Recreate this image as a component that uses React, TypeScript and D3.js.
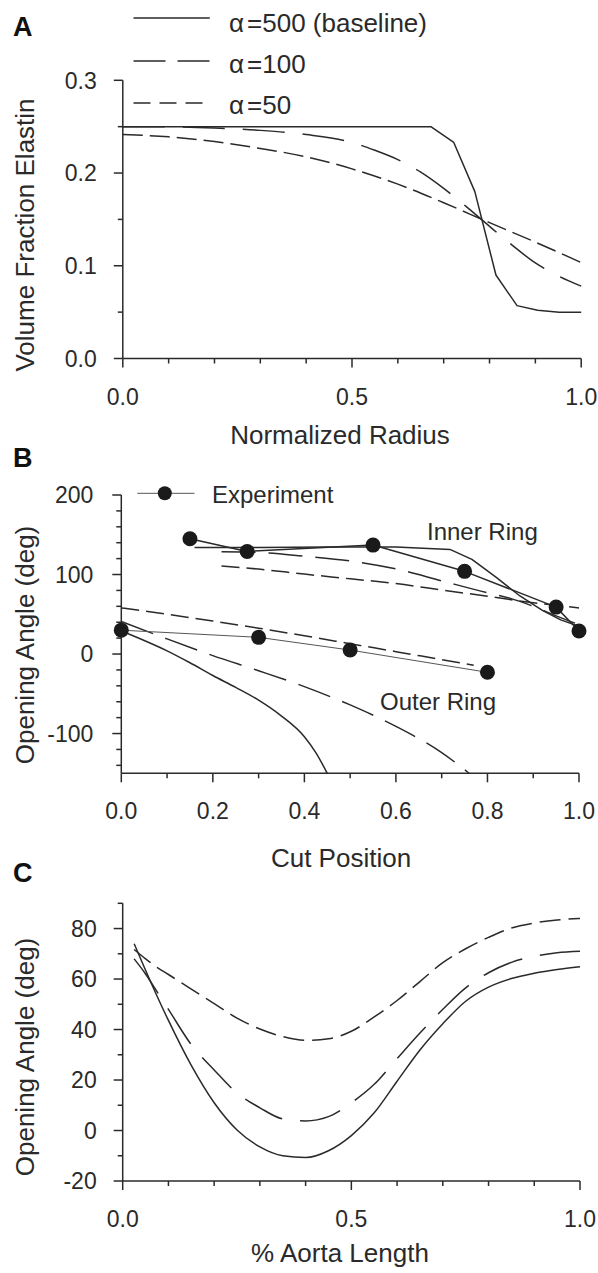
import React from "react";
import * as d3 from "d3";

// ---------- Panel A: elastin volume fraction across the wall ----------
const radius500 = [0, 0.672, 0.722, 0.768, 0.814, 0.86, 0.905, 0.952, 1.0];
const elastin500 = [0.25, 0.25, 0.233, 0.18, 0.09, 0.057, 0.052, 0.05, 0.05];
const radius100 = [0, 0.1, 0.2, 0.3, 0.4, 0.5, 0.55, 0.6, 0.65, 0.7, 0.75, 0.8, 0.85, 0.9, 0.95, 1.0];
const elastin100 = [0.25, 0.2498, 0.2485, 0.246, 0.2415, 0.233, 0.2245, 0.2145, 0.201, 0.1835, 0.1635, 0.1425, 0.122, 0.103, 0.089, 0.078];
const radius50 = [0, 0.1, 0.2, 0.3, 0.4, 0.5, 0.6, 0.7, 0.8, 0.9, 1.0];
const elastin50 = [0.2415, 0.239, 0.234, 0.2265, 0.2175, 0.2045, 0.188, 0.168, 0.1465, 0.1255, 0.1035];
const legendLabelsA = ["=500 (baseline)", "=100", "=50"];

// ---------- Panel B: opening angle vs cut position ----------
const innerExpCut = [0.15, 0.275, 0.55, 0.75, 0.95, 1.0];
const innerExpAngle = [145, 129, 137, 104, 59, 29];
const outerExpCut = [0, 0.3, 0.5, 0.8];
const outerExpAngle = [30, 21, 5, -23];

const inner500Cut = [0.16, 0.3, 0.45, 0.6, 0.718, 0.766, 0.82, 0.871, 0.92, 0.96, 1.0];
const inner500Angle = [134, 134, 134.5, 134.5, 131.6, 119, 96, 73, 55, 43, 35];
const inner100Cut = [0.219, 0.3, 0.4, 0.5, 0.6, 0.7, 0.8, 0.85, 0.9, 0.95, 1.0];
const inner100Angle = [128.7, 127.8, 123, 117, 107, 92, 77, 70, 60, 48, 37];
const inner50Cut = [0.219, 0.3, 0.4, 0.5, 0.6, 0.7, 0.8, 0.9, 1.0];
const inner50Angle = [110.6, 106.8, 100.5, 94.6, 88.6, 80.6, 72.6, 64.5, 58];

const outer500Cut = [0, 0.05, 0.1, 0.15, 0.2, 0.25, 0.3, 0.35, 0.4, 0.425, 0.45];
const outer500Angle = [29, 17, 4, -11, -27, -42, -58, -78, -104, -124, -150];
const outer100Cut = [0, 0.1, 0.2, 0.3, 0.4, 0.5, 0.6, 0.7, 0.76];
const outer100Angle = [41, 19, -2, -21, -41, -64, -91, -124, -150];
const outer50Cut = [0, 0.1, 0.2, 0.3, 0.4, 0.5, 0.6, 0.7, 0.77];
const outer50Angle = [58, 50, 41.5, 32.5, 23, 13, 3, -7, -14];

// ---------- Panel C: opening angle along the aorta ----------
const aortaPos = [0.025, 0.05, 0.075, 0.1, 0.15, 0.2, 0.25, 0.3, 0.35, 0.4, 0.45, 0.5, 0.55, 0.6, 0.65, 0.7, 0.75, 0.8, 0.85, 0.9, 0.95, 1.0];
const aorta500 = [74, 63.5, 53.3, 43.6, 25.8, 11.0, 0.2, -6.5, -10.0, -10.7, -8.0, -2, 7, 19.5, 31.9, 42.3, 51.2, 56.8, 60.2, 62.3, 63.8, 64.9];
const aorta100 = [68, 62, 55, 48, 34, 24, 14.8, 9, 4.6, 3.8, 5.5, 11, 18.3, 28.5, 38.6, 48, 56.5, 62.5, 66.6, 69, 70.4, 71];
const aorta50 = [71.7, 68, 64.6, 61.8, 56, 50.3, 44.5, 40.2, 37.2, 35.7, 36.3, 39.3, 45, 51.5, 59, 66.5, 72, 76.5, 80.2, 82.2, 83.4, 84];

const FONT = "'Liberation Sans', Arial, Helvetica, sans-serif";
const INK = "#2a2a2a";
const LINE_W = 1.5;
const TICK_FONT = 23;

type Pt = [number, number];
const zip = (xs: number[], ys: number[]): Pt[] => xs.map((x, i) => [x, ys[i]]);

type Scale = d3.ScaleLinear<number, number>;

function XAxis({ x, y, major, minor, fmt }: { x: Scale; y: number; major: number[]; minor: number[]; fmt: (v: number) => string }) {
  const [r0, r1] = x.range();
  return (
    <g>
      <line x1={r0} x2={r1} y1={y} y2={y} stroke={INK} strokeWidth={LINE_W} />
      {minor.map((t) => (
        <line key={"m" + t} x1={x(t)} x2={x(t)} y1={y} y2={y + 5} stroke={INK} strokeWidth={LINE_W} />
      ))}
      {major.map((t) => (
        <g key={"M" + t}>
          <line x1={x(t)} x2={x(t)} y1={y} y2={y + 9} stroke={INK} strokeWidth={LINE_W} />
          <text x={x(t)} y={y + 46} textAnchor="middle" fontSize={TICK_FONT} fill={INK} fontFamily={FONT}>
            {fmt(t)}
          </text>
        </g>
      ))}
    </g>
  );
}

function YAxis({ yScale, x, major, minor, fmt, labelGap }: { yScale: Scale; x: number; major: number[]; minor: number[]; fmt: (v: number) => string; labelGap: number }) {
  const [r0, r1] = yScale.range();
  return (
    <g>
      <line x1={x} x2={x} y1={r0} y2={r1} stroke={INK} strokeWidth={LINE_W} />
      {minor.map((t) => (
        <line key={"m" + t} x1={x - 5} x2={x} y1={yScale(t)} y2={yScale(t)} stroke={INK} strokeWidth={LINE_W} />
      ))}
      {major.map((t) => (
        <g key={"M" + t}>
          <line x1={x - 9} x2={x} y1={yScale(t)} y2={yScale(t)} stroke={INK} strokeWidth={LINE_W} />
          <text x={x - labelGap} y={yScale(t) + 8.2} textAnchor="end" fontSize={TICK_FONT} fill={INK} fontFamily={FONT}>
            {fmt(t)}
          </text>
        </g>
      ))}
    </g>
  );
}

function Series({ d, dash, width = LINE_W, color = INK }: { d: string | null; dash?: string; width?: number; color?: string }) {
  return <path d={d ?? ""} fill="none" stroke={color} strokeWidth={width} strokeDasharray={dash} strokeLinejoin="round" />;
}

function YTitle({ x, y, text }: { x: number; y: number; text: string }) {
  return (
    <text transform={`translate(${x},${y}) rotate(-90)`} textAnchor="middle" fontSize={26} fill={INK} fontFamily={FONT}>
      {text}
    </text>
  );
}

function XTitle({ x, y, text }: { x: number; y: number; text: string }) {
  return (
    <text x={x} y={y} textAnchor="middle" fontSize={26} fill={INK} fontFamily={FONT}>
      {text}
    </text>
  );
}

function PanelLetter({ y, text }: { y: number; text: string }) {
  return (
    <text x={13} y={y} fontSize={27} fontWeight="bold" fill="#111" fontFamily={FONT}>
      {text}
    </text>
  );
}

export default function App() {
  // Panel A scales
  const xA = d3.scaleLinear().domain([0, 1]).range([122.8, 581.2]);
  const yA = d3.scaleLinear().domain([0, 0.3]).range([358.5, 80.3]);
  const lineA = (curve: d3.CurveFactory) => d3.line<Pt>().x((p) => xA(p[0])).y((p) => yA(p[1])).curve(curve);

  // Panel B scales
  const xB = d3.scaleLinear().domain([0, 1]).range([121.3, 579]);
  const yB = d3.scaleLinear().domain([-150, 200]).range([773.3, 495]);
  const lineB = (curve: d3.CurveFactory) => d3.line<Pt>().x((p) => xB(p[0])).y((p) => yB(p[1])).curve(curve);

  // Panel C scales
  const xC = d3.scaleLinear().domain([0, 1]).range([122.7, 580]);
  const yC = d3.scaleLinear().domain([-20, 90]).range([1181, 903.3]);
  const lineC = d3.line<Pt>().x((p) => xC(p[0])).y((p) => yC(p[1])).curve(d3.curveMonotoneX);

  const f1 = d3.format(".1f");
  // integer labels with a plain hyphen for negatives
  const f0 = (v: number) => d3.format("d")(v).replace("\u2212", "-");
  const tenths = d3.range(0, 11).map((i) => i / 10);

  const longA = "42 18";
  const shortA = "20 7";
  const longB = "34 13";
  const shortB = "18 7";
  const longC = "42 18";
  const shortC = "21 8";

  const legendY = [18, 61, 103];
  const legendBase = [32, 73, 114];
  const legendDash = [undefined, "32 12", "17 9"];

  return (
    <svg width={598} height={1273} viewBox="0 0 598 1273" style={{ position: "absolute", left: 0, top: 0, background: "#fff" }}>
      <rect x={0} y={0} width={598} height={1273} fill="#fff" />

      {/* ---------- A ---------- */}
      <PanelLetter y={36} text="A" />
      {legendLabelsA.map((lab, i) => (
        <g key={lab}>
          <line x1={133.5} x2={209.8} y1={legendY[i]} y2={legendY[i]} stroke={INK} strokeWidth={LINE_W} strokeDasharray={legendDash[i]} />
          <text x={229} y={legendBase[i]} fontSize={26} fill={INK} fontFamily={FONT}>
            α<tspan dx={3}>{lab}</tspan>
          </text>
        </g>
      ))}
      <YAxis yScale={yA} x={122.8} major={[0, 0.1, 0.2, 0.3]} minor={[0.05, 0.15, 0.25]} fmt={f1} labelGap={26} />
      <XAxis x={xA} y={358.5} major={[0, 0.5, 1]} minor={tenths.filter((t) => t !== 0 && t !== 0.5 && t !== 1)} fmt={f1} />
      <Series d={lineA(d3.curveLinear)(zip(radius500, elastin500))} />
      <Series d={lineA(d3.curveMonotoneX)(zip(radius100, elastin100))} dash={longA} />
      <Series d={lineA(d3.curveMonotoneX)(zip(radius50, elastin50))} dash={shortA} />
      <YTitle x={34} y={235} text="Volume Fraction Elastin" />
      <XTitle x={340} y={444} text="Normalized Radius" />

      {/* ---------- B ---------- */}
      <PanelLetter y={467} text="B" />
      <YAxis yScale={yB} x={121.3} major={[-100, 0, 100, 200]} minor={d3.range(-140, 200, 20).filter((t) => t % 100 !== 0)} fmt={f0} labelGap={28} />
      <XAxis x={xB} y={773.3} major={[0, 0.2, 0.4, 0.6, 0.8, 1]} minor={[0.1, 0.3, 0.5, 0.7, 0.9]} fmt={f1} />
      <Series d={lineB(d3.curveLinear)(zip(inner500Cut, inner500Angle))} />
      <Series d={lineB(d3.curveMonotoneX)(zip(inner100Cut, inner100Angle))} dash={longB} />
      <Series d={lineB(d3.curveMonotoneX)(zip(inner50Cut, inner50Angle))} dash={shortB} />
      <Series d={lineB(d3.curveMonotoneX)(zip(outer500Cut, outer500Angle))} />
      <Series d={lineB(d3.curveMonotoneX)(zip(outer100Cut, outer100Angle))} dash={longB} />
      <Series d={lineB(d3.curveMonotoneX)(zip(outer50Cut, outer50Angle))} dash={shortB} />
      <Series d={lineB(d3.curveLinear)(zip(innerExpCut, innerExpAngle))} />
      <Series d={lineB(d3.curveLinear)(zip(outerExpCut, outerExpAngle))} width={1} color="#555" />
      {zip(innerExpCut, innerExpAngle).concat(zip(outerExpCut, outerExpAngle)).map((p, i) => (
        <circle key={i} cx={xB(p[0])} cy={yB(p[1])} r={7.5} fill="#1a1a1a" />
      ))}
      <line x1={137.3} x2={194.5} y1={493.3} y2={493.3} stroke="#555" strokeWidth={1} />
      <circle cx={164.8} cy={493.3} r={7} fill="#1a1a1a" />
      <text x={212} y={503} fontSize={24} fill={INK} fontFamily={FONT}>Experiment</text>
      <text x={427} y={540} fontSize={24} fill={INK} fontFamily={FONT}>Inner Ring</text>
      <text x={380} y={710} fontSize={24} fill={INK} fontFamily={FONT}>Outer Ring</text>
      <YTitle x={34} y={645} text="Opening Angle (deg)" />
      <XTitle x={341} y={867} text="Cut Position" />

      {/* ---------- C ---------- */}
      <PanelLetter y={882} text="C" />
      <YAxis yScale={yC} x={122.7} major={[-20, 0, 20, 40, 60, 80]} minor={[-10, 10, 30, 50, 70, 90]} fmt={f0} labelGap={26} />
      <XAxis x={xC} y={1181} major={[0, 0.5, 1]} minor={tenths.filter((t) => t !== 0 && t !== 0.5 && t !== 1)} fmt={f1} />
      <Series d={lineC(zip(aortaPos, aorta500))} />
      <Series d={lineC(zip(aortaPos, aorta100))} dash={longC} />
      <Series d={lineC(zip(aortaPos, aorta50))} dash={shortC} />
      <YTitle x={34} y={1057} text="Opening Angle (deg)" />
      <XTitle x={340} y={1262} text="% Aorta Length" />
    </svg>
  );
}
